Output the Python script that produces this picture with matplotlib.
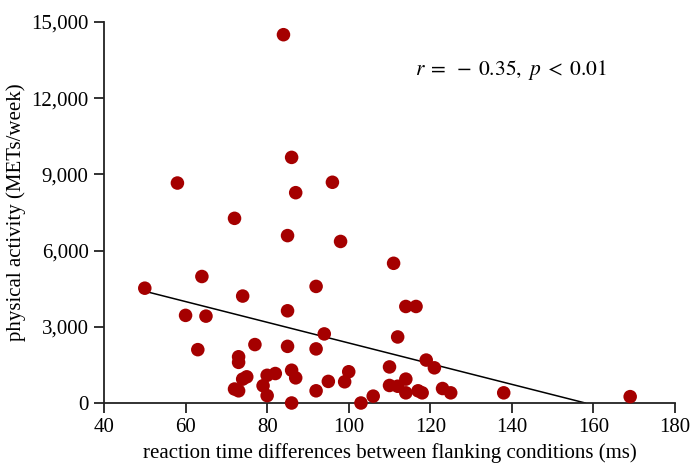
import numpy as np
import matplotlib
matplotlib.use("Agg")
import matplotlib.pyplot as plt

plt.rcParams['font.family'] = ['Liberation Serif', 'DejaVu Serif']
plt.rcParams['mathtext.fontset'] = 'stix'

# reaction time differences (ms) and physical activity (METs/week)
rt_diff = [50, 58, 60, 63, 64, 65, 72, 72, 73, 73, 73, 74, 75, 74, 77, 79, 80, 80, 82,
           84, 85, 85, 85, 86, 86, 87, 86, 87, 92, 92, 92, 94, 95, 96, 98, 99, 100,
           103, 106, 110, 110, 111, 112, 112, 114, 116.5, 114, 114, 117, 118, 119,
           121, 123, 125, 138, 169]
activity = [4520, 8660, 3450, 2100, 4980, 3420, 7270, 550, 480, 1820, 1600, 940, 1030,
            4210, 2300, 680, 290, 1090, 1160, 14500, 2230, 3630, 6590, 9670, 1290, 990,
            0, 8280, 4590, 2130, 480, 2720, 850, 8690, 6360, 835, 1230, 0, 270, 1420,
            690, 5500, 2600, 660, 3800, 3800, 940, 400, 480, 400, 1690, 1385, 570, 400,
            400, 250]

# regression line end points
fit_x = [50, 158]
fit_y = [4400, 0]

x_ticks = [40, 60, 80, 100, 120, 140, 160, 180]
y_ticks = [0, 3000, 6000, 9000, 12000, 15000]
y_tick_labels = ['0', '3,000', '6,000', '9,000', '12,000', '15,000']

fig = plt.figure(figsize=(6.91, 4.66), dpi=100)
ax = fig.add_axes([0.1505, 0.1352, 0.8264, 0.8176])

ax.plot(fit_x, fit_y, color='black', lw=1.1, zorder=2)
ax.scatter(rt_diff, activity, s=95, color='#a50000', edgecolors='none', zorder=3, clip_on=False)

ax.set_xlim(40, 180)
ax.set_ylim(0, 15000)
ax.set_xticks(x_ticks)
ax.set_yticks(y_ticks)
ax.set_yticklabels(y_tick_labels)

for side in ['top', 'right']:
    ax.spines[side].set_visible(False)
for side in ['left', 'bottom']:
    ax.spines[side].set_linewidth(1.3)
    ax.spines[side].set_color('#222222')
ax.tick_params(direction='out', length=7, width=1.3, color='#222222', labelsize=15, pad=4)

ax.set_xlabel('reaction time differences between flanking conditions (ms)', fontsize=15, labelpad=4)
ax.set_ylabel('physical activity (METs/week)', fontsize=15, labelpad=4)

ax.text(139.8, 13100, r'$r\;=\;-\;0.35,\ p\;<\;0.01$', fontsize=15.5, ha='center', va='center')

fig.savefig('out.png', dpi=100)
